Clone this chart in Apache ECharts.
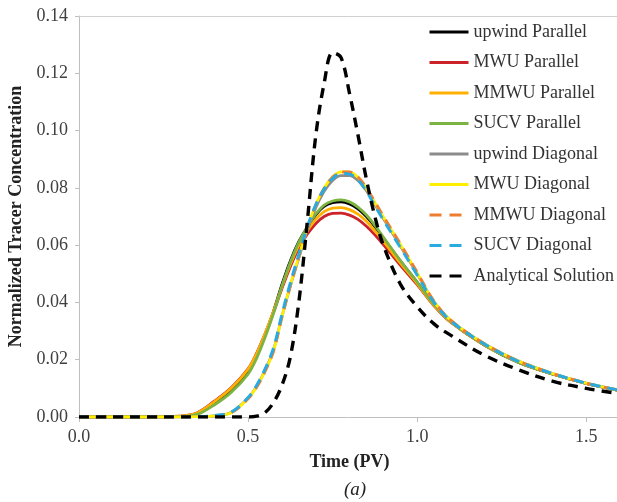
<!DOCTYPE html>
<html>
<head>
<meta charset="utf-8">
<script src="https://cdn.jsdelivr.net/npm/echarts@6/dist/echarts.min.js"></script>
<style>
html,body{margin:0;padding:0;background:#fff;}
#chart{width:617px;height:502px;}
</style>
</head>
<body>
<div id="chart"></div>
<script>
const times = [0, 0.1, 0.2, 0.3, 0.35, 0.4, 0.45, 0.5, 0.525, 0.55, 0.575, 0.6, 0.625, 0.65, 0.675, 0.7, 0.725, 0.75, 0.775, 0.8, 0.825, 0.85, 0.875, 0.9, 0.95, 1.0, 1.05, 1.1, 1.2, 1.3, 1.4, 1.5, 1.6];

const upwindParallel = [0,0,0,0.0002,0.0012,0.0048,0.0093,0.0158,0.0212,0.0285,0.0368,0.0462,0.0545,0.0612,0.0662,0.0705,0.0735,0.0748,0.0751,0.0744,0.0727,0.0700,0.0665,0.0625,0.0545,0.0470,0.0392,0.0332,0.0250,0.0190,0.0150,0.0117,0.0092];
const mwuParallel = [0,0,0,0.0003,0.0015,0.0055,0.0102,0.0168,0.0222,0.0290,0.0365,0.0448,0.0525,0.0590,0.0638,0.0675,0.0700,0.0711,0.0712,0.0705,0.0690,0.0666,0.0636,0.0602,0.0530,0.0462,0.0388,0.0330,0.0250,0.0191,0.0150,0.0117,0.0092];
const mmwuParallel = [0,0,0,0.0003,0.0014,0.0053,0.0100,0.0166,0.0220,0.0290,0.0368,0.0455,0.0533,0.0600,0.0650,0.0690,0.0717,0.0729,0.0731,0.0724,0.0708,0.0683,0.0650,0.0614,0.0538,0.0466,0.0390,0.0331,0.0250,0.0191,0.0150,0.0117,0.0092];
const sucvParallel = [0,0,0,0.0001,0.0009,0.0042,0.0086,0.0150,0.0204,0.0277,0.0360,0.0455,0.0540,0.0610,0.0663,0.0708,0.0740,0.0754,0.0758,0.0751,0.0733,0.0705,0.0669,0.0628,0.0547,0.0471,0.0393,0.0333,0.0251,0.0190,0.0150,0.0117,0.0092];
const upwindDiagonal = [0,0,0,0,0.0001,0.0004,0.0016,0.0066,0.0106,0.0162,0.0233,0.0350,0.0458,0.0555,0.0652,0.0730,0.0788,0.0826,0.0843,0.0843,0.0826,0.0790,0.0742,0.0693,0.0598,0.0500,0.0402,0.0336,0.0255,0.0195,0.0152,0.0118,0.0093];
const mwuDiagonal = [0,0,0,0,0.0001,0.0004,0.0015,0.0065,0.0105,0.0160,0.0230,0.0350,0.0460,0.0560,0.0660,0.0740,0.0800,0.0838,0.0856,0.0855,0.0837,0.0798,0.0748,0.0698,0.0603,0.0503,0.0403,0.0337,0.0255,0.0195,0.0152,0.0118,0.0093];
const mmwuDiagonal = [0,0,0,0,0.0001,0.0004,0.0015,0.0064,0.0104,0.0159,0.0229,0.0348,0.0458,0.0558,0.0658,0.0738,0.0798,0.0837,0.0855,0.0855,0.0838,0.0800,0.0751,0.0701,0.0605,0.0505,0.0404,0.0337,0.0255,0.0195,0.0152,0.0118,0.0093];
const sucvDiagonal = [0,0,0,0,0.0001,0.0005,0.0017,0.0068,0.0110,0.0167,0.0240,0.0358,0.0468,0.0567,0.0663,0.0740,0.0796,0.0833,0.0850,0.0848,0.0828,0.0788,0.0738,0.0688,0.0593,0.0496,0.0400,0.0335,0.0254,0.0194,0.0152,0.0118,0.0093];
const analytical = [0,0,0,0,0,0,0,0,0.0003,0.0015,0.005,0.011,0.021,0.040,0.068,0.098,0.1165,0.1272,0.1255,0.113,0.0985,0.083,0.070,0.060,0.0465,0.0385,0.0325,0.0285,0.0215,0.0165,0.0125,0.0100,0.0081];

const seriesNames = ['upwind Parallel','MWU Parallel','MMWU Parallel','SUCV Parallel','upwind Diagonal','MWU Diagonal','MMWU Diagonal','SUCV Diagonal','Analytical Solution'];
const xTicks = ['0.0','0.5','1.0','1.5'];
const yTicks = ['0.00','0.02','0.04','0.06','0.08','0.10','0.12','0.14'];

const seriesData = [upwindParallel, mwuParallel, mmwuParallel, sucvParallel, upwindDiagonal, mwuDiagonal, mmwuDiagonal, sucvDiagonal, analytical];
const styles = [
  {color:'#000000', width:2.8, type:'solid'},
  {color:'#cc2229', width:2.8, type:'solid'},
  {color:'#ffb000', width:2.8, type:'solid'},
  {color:'#7cb342', width:2.8, type:'solid'},
  {color:'#8c8c8c', width:2.8, type:'solid'},
  {color:'#ffee00', width:2.8, type:'solid'},
  {color:'#ed7d31', width:3, type:[10,7]},
  {color:'#29abe2', width:3, type:[10,7]},
  {color:'#000000', width:3.4, type:[10,7]}
];
const serif = "'Liberation Serif','Times New Roman',serif";

const chart = echarts.init(document.getElementById('chart'), null, {renderer:'canvas'});
chart.setOption({
  animation:false,
  backgroundColor:'#ffffff',
  grid:{left:79, top:16, width:541, height:401, containLabel:false, outerBoundsMode:'none'},
  title:{text:'(a)', left:344, top:480, padding:0, textStyle:{fontFamily:serif, fontStyle:'italic', fontWeight:'normal', fontSize:19, color:'#222'}},
  legend:{
    show:true, orient:'vertical', left:428, top:23, padding:0,
    itemWidth:39, itemHeight:14, itemGap:12.5,
    itemStyle:{opacity:0},
    lineStyle:{width:3},
    textStyle:{fontFamily:serif, fontSize:18, color:'#333'},
    data: seriesNames.map((n,i)=> styles[i].type==='solid' ? {name:n} : {name:n, lineStyle:{width:3, type:[12,8]}})
  },
  xAxis:[{
    type:'value', min:0, max:1.6, interval:0.5,
    name:'Time (PV)', nameLocation:'middle', nameGap:36,
    nameTextStyle:{fontFamily:serif, fontWeight:'bold', fontSize:18, color:'#222'},
    axisLine:{show:true, lineStyle:{color:'#bfbfbf', width:1}},
    axisTick:{show:true, length:5, lineStyle:{color:'#bfbfbf'}},
    axisLabel:{fontFamily:serif, fontSize:18, color:'#404040', margin:11,
      formatter:(v)=>{const s=v.toFixed(1); return xTicks.indexOf(s)>=0? s : '';}},
    splitLine:{show:false}
  },{
    type:'value', position:'top', min:0, max:1.6,
    axisLine:{show:true, lineStyle:{color:'#d0d0d0', width:1}},
    axisTick:{show:false}, axisLabel:{show:false}, splitLine:{show:false}
  }],
  yAxis:{
    type:'value', min:0, max:0.14, interval:0.02,
    name:'Normalized Tracer Concentration', nameLocation:'middle', nameGap:50,
    nameTextStyle:{fontFamily:serif, fontWeight:'bold', fontSize:18, color:'#222'},
    axisLine:{show:true, lineStyle:{color:'#bfbfbf', width:1}},
    axisTick:{show:true, inside:false, length:4, lineStyle:{color:'#bfbfbf'}},
    axisLabel:{fontFamily:serif, fontSize:18, color:'#404040', margin:11,
      formatter:(v)=>{const s=v.toFixed(2); return yTicks.indexOf(s)>=0? s : '';}},
    splitLine:{show:false}
  },
  series: seriesNames.map((n,i)=>({
    name:n, type:'line', showSymbol:false, symbol:'none', smooth:0.35,
    data: times.map((t,k)=>[t, seriesData[i][k]]),
    lineStyle:{color:styles[i].color, width:styles[i].width, type:styles[i].type, cap:'butt'},
    itemStyle:{color:styles[i].color},
    emphasis:{disabled:true}
  }))
});
</script>
</body>
</html>
